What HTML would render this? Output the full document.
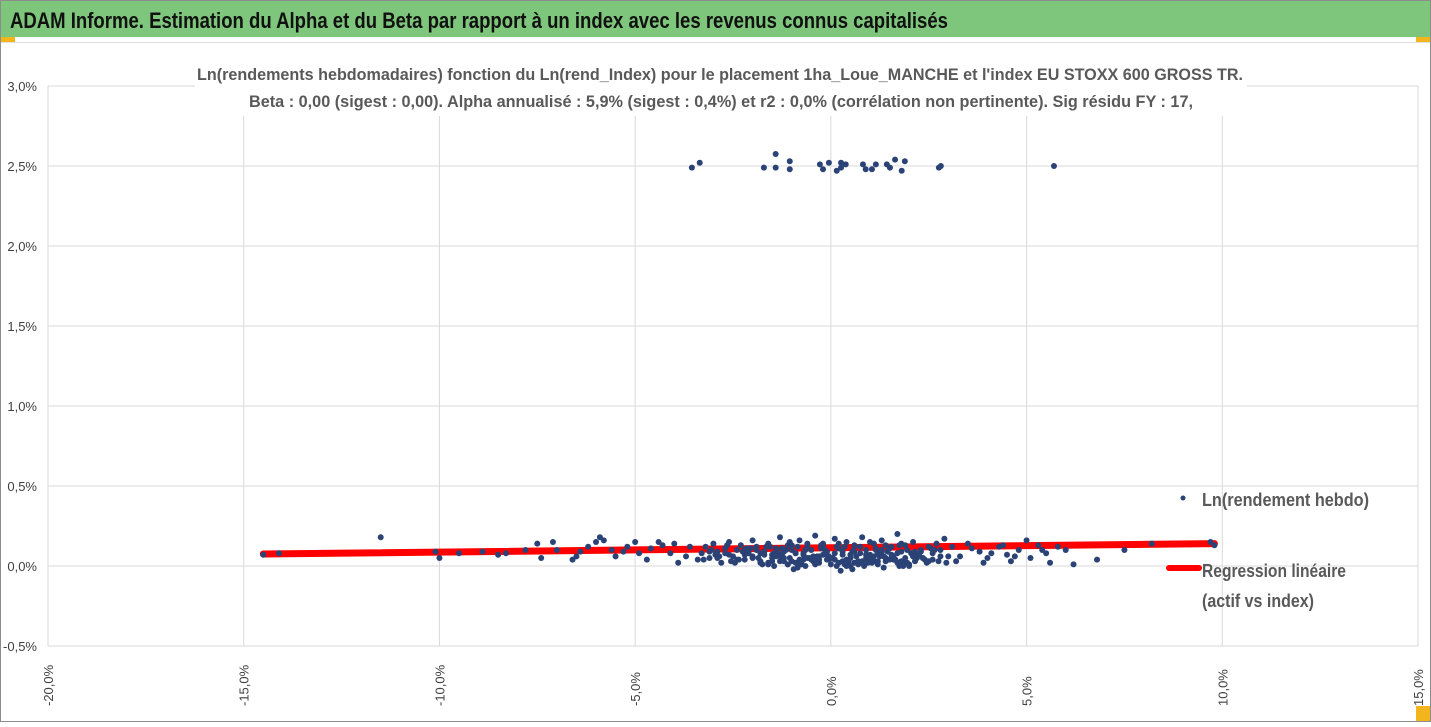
<!DOCTYPE html>
<html><head><meta charset="utf-8"><style>
html,body{margin:0;padding:0;background:#fff}
body{width:1431px;height:722px;overflow:hidden;font-family:"Liberation Sans",sans-serif}
</style></head><body>
<svg id="chart" width="1431" height="722" viewBox="0 0 1431 722" xmlns="http://www.w3.org/2000/svg">
<rect x="0.5" y="0.5" width="1430" height="721" fill="#fff" stroke="#8c8c8c"/>
<g id="grid"></g>
<rect x="195" y="58" width="1052" height="58" fill="#fff"/>
<text x="720" y="80" text-anchor="middle" font-size="17" font-weight="bold" fill="#595959" textLength="1046" lengthAdjust="spacingAndGlyphs">Ln(rendements hebdomadaires) fonction du Ln(rend_Index) pour le placement 1ha_Loue_MANCHE et l'index EU STOXX 600 GROSS TR.</text>
<text x="721" y="107" text-anchor="middle" font-size="17" font-weight="bold" fill="#595959" textLength="944" lengthAdjust="spacingAndGlyphs">Beta : 0,00 (sigest : 0,00). Alpha annualisé : 5,9% (sigest : 0,4%) et r2 : 0,0% (corrélation non pertinente). Sig résidu FY : 17,</text>
<g id="axes"></g>
<g id="reg"></g>
<g id="points"></g>
<rect x="1" y="1" width="1429" height="36" fill="#7dc67b"/>
<text x="10" y="28" font-size="22" font-weight="bold" fill="#111" textLength="938" lengthAdjust="spacingAndGlyphs">ADAM Informe. Estimation du Alpha et du Beta par rapport à un index avec les revenus connus capitalisés</text>
<rect x="1" y="37" width="14" height="5" fill="#f2b51c"/>
<rect x="1416" y="37" width="14" height="5" fill="#f2b51c"/>
<rect x="1416" y="706" width="14" height="15" fill="#f2b51c"/>
<line x1="1" y1="42.5" x2="1430" y2="42.5" stroke="#e0e0e0"/>
<g>
<circle cx="1183" cy="498" r="2.5" fill="#2a4275"/>
<text x="1202" y="506" font-size="18" font-weight="bold" fill="#595959" textLength="167" lengthAdjust="spacingAndGlyphs">Ln(rendement hebdo)</text>
<line x1="1169" y1="568" x2="1199" y2="568" stroke="#ff0000" stroke-width="6" stroke-linecap="round"/>
<text x="1202" y="577" font-size="18" font-weight="bold" fill="#595959" textLength="144" lengthAdjust="spacingAndGlyphs">Regression linéaire</text>
<text x="1202" y="607" font-size="18" font-weight="bold" fill="#595959" textLength="112" lengthAdjust="spacingAndGlyphs">(actif vs index)</text>
</g>
</svg>
<script>
const xTicks=[-20,-15,-10,-5,0,5,10,15];
const xTickLabels=["-20,0%","-15,0%","-10,0%","-5,0%","0,0%","5,0%","10,0%","15,0%"];
const yTicks=[3,2.5,2,1.5,1,0.5,0,-0.5];
const yTickLabels=["3,0%","2,5%","2,0%","1,5%","1,0%","0,5%","0,0%","-0,5%"];
const regX=[-14.5,9.8];
const regY=[0.075,0.14];
const topX=[-3.55,-3.35,-1.71,-1.41,-1.41,-1.05,-1.05,-0.28,-0.2,-0.05,0.15,0.26,0.26,0.38,0.82,0.89,1.05,1.15,1.43,1.51,1.64,1.81,1.89,2.76,2.81,5.7];
const topY=[2.49,2.52,2.49,2.575,2.49,2.53,2.48,2.51,2.48,2.52,2.47,2.52,2.49,2.51,2.51,2.48,2.48,2.51,2.51,2.49,2.54,2.47,2.53,2.49,2.5,2.5];
const outX=[-14.5,-14.1,-11.5,-10.0,-10.1,-9.5,-8.9,-8.5,-8.3,-7.8,-7.5,-7.4,-7.1,-7.0,-6.6,-6.5,-6.4,-6.2,-6.0,-5.9,-5.8,-5.6,-5.5,-5.3,-5.2,-5.0,-4.9,-4.7,-4.6,-4.4,-4.3,-4.1,-4.0,-3.9,-3.7,-3.6,-3.4,4.3,4.5,4.6,4.8,5.0,5.1,5.3,5.5,5.6,5.8,6.0,6.2,6.8,7.5,8.2,9.7,9.8,3.5,3.8,4.0,3.2,2.9,3.1,3.3,3.6,3.9,4.1,4.4,4.7,5.4];
const outY=[0.07,0.08,0.18,0.05,0.09,0.08,0.09,0.07,0.08,0.10,0.14,0.05,0.15,0.10,0.04,0.06,0.09,0.12,0.15,0.18,0.16,0.10,0.06,0.09,0.12,0.15,0.08,0.04,0.11,0.15,0.13,0.08,0.14,0.02,0.06,0.12,0.04,0.12,0.07,0.03,0.10,0.16,0.05,0.13,0.08,0.02,0.12,0.10,0.01,0.04,0.10,0.14,0.15,0.13,0.14,0.09,0.05,0.03,0.17,0.12,0.06,0.11,0.02,0.08,0.13,0.06,0.10];
const midX=[-3.3,-3.2,-3.1,-3.0,-2.9,-2.8,-2.7,-2.6,-2.5,-2.4,-2.3,-2.2,-2.1,-2.0,-1.9,-1.8,-1.7,-1.6,-1.5,-1.4,-1.3,-1.2,-1.1,-1.0,-0.9,-0.8,-0.7,-0.6,-0.5,-0.4,-0.3,-0.2,-0.1,0.0,0.1,0.2,0.3,0.4,0.5,0.6,0.7,0.8,0.9,1.0,1.1,1.2,1.3,1.4,1.5,1.6,1.7,1.8,1.9,2.0,2.1,2.2,2.3,2.4,2.5,2.6,2.7,2.8,
-3.25,-3.05,-2.85,-2.65,-2.45,-2.25,-2.05,-1.85,-1.65,-1.45,-1.25,-1.05,-0.85,-0.65,-0.45,-0.25,-0.05,0.15,0.35,0.55,0.75,0.95,1.15,1.35,1.55,1.75,1.95,2.15,2.35,2.55,2.75,
-2.95,-2.55,-2.15,-1.75,-1.35,-0.95,-0.55,-0.15,0.25,0.65,1.05,1.45,1.85,2.25,2.65,
-2.0,-1.6,-1.2,-0.8,-0.4,0.05,0.45,0.85,1.25,1.65,2.05,2.45,
-1.9,-1.5,-1.1,-0.7,-0.3,0.1,0.5,0.9,1.3,1.7,2.1,-2.35,-1.15,-0.35,0.6,1.0,1.6,-0.75,0.3,1.2,-1.55,0.7,1.9,-2.7,2.95,
-1.8,-1.4,-1.0,-0.6,-0.2,0.2,0.6,1.0,1.4,1.8,2.2,-0.9,0.4,-1.3,1.1,-0.45,0.8,-1.7,1.55,-0.1];
const midY=[0.08,0.12,0.05,0.14,0.09,0.02,0.11,0.15,0.06,0.10,0.13,0.04,0.08,0.16,0.12,0.03,0.09,0.14,0.07,0.11,0.18,0.05,0.13,0.10,0.02,0.16,0.08,0.12,0.04,0.19,0.06,0.14,0.09,0.01,0.17,0.11,0.03,0.15,0.07,0.12,0.02,0.18,0.10,0.05,0.14,0.08,0.16,0.03,0.11,0.06,0.20,0.09,0.13,0.01,0.15,0.07,0.10,0.04,0.12,0.08,0.14,0.06,
0.04,0.10,0.06,0.13,0.02,0.09,0.11,0.05,0.12,0.00,0.07,0.15,-0.01,0.10,0.03,0.13,0.06,0.00,0.12,-0.02,0.08,0.03,0.11,-0.01,0.07,0.13,0.02,0.09,0.05,0.11,0.03,
0.07,0.03,0.11,0.01,0.08,-0.02,0.05,0.10,-0.03,0.06,0.02,0.09,0.00,0.07,0.10,
0.06,0.02,0.09,0.04,0.01,0.05,0.03,0.00,0.06,0.04,0.08,0.02,
0.10,0.05,0.01,0.07,0.04,0.08,0.00,0.05,0.09,0.02,0.06,0.04,0.10,0.06,0.02,0.07,0.04,0.01,0.07,0.03,0.12,0.03,0.05,0.08,0.02,
0.02,0.06,0.03,0.05,0.07,0.02,0.09,0.04,0.05,0.03,0.05,0.08,0.04,0.03,0.06,0.05,0.02,0.07,0.05,0.04];
const coreX=[-1.5,-1.3,-1.1,-0.9,-0.7,-0.5,-0.3,-0.1,0.1,0.3,
0.5,0.7,0.9,1.1,1.3,1.5,1.7,1.9,2.1,2.3,
-1.45,-1.25,-1.05,-0.85,-0.65,-0.45,-0.25,-0.05,0.15,0.35,
0.55,0.75,0.95,1.15,1.35,1.55,1.75,1.95,2.15,2.35,
-1.6,-1.2,-0.8,-0.4,0.0,0.4,0.8,1.2,1.6,2.0,
-1.0,-0.6,-0.2,0.2,0.6,1.0,1.4,1.8,-2.2,2.6,
-2.6,-2.4,-2.2,-2.0,-1.8,3.0,2.8,2.5,-2.9,-3.1];
const coreY=[0.03,0.06,0.01,0.08,0.04,0.10,0.02,0.07,0.04,0.09,
0.05,0.01,0.07,0.03,0.10,0.04,0.08,0.02,0.06,0.09,
0.08,0.11,0.05,0.12,0.00,0.06,0.11,0.04,0.12,0.01,
0.09,0.12,0.02,0.10,0.06,0.12,0.00,0.10,0.03,0.05,
0.01,0.03,0.02,0.03,0.05,0.00,0.03,0.01,0.04,0.00,
0.13,0.14,0.12,0.14,0.13,0.15,0.13,0.14,0.07,0.04,
0.07,0.04,0.10,0.05,0.08,0.06,0.10,0.03,0.05,0.09];
const L=48,R=1418,T=86,B=646,X0=-20,X1=15,Y0=-0.5,Y1=3;
const sx=v=>L+(v-X0)/(X1-X0)*(R-L);
const sy=v=>B-(v-Y0)/(Y1-Y0)*(B-T);
const NS="http://www.w3.org/2000/svg";
function mk(tag,attrs,parent){const e=document.createElementNS(NS,tag);for(const k in attrs)e.setAttribute(k,attrs[k]);parent.appendChild(e);return e;}
const grid=document.getElementById('grid'),axes=document.getElementById('axes');
xTicks.forEach((t,i)=>{
 const gl=mk('line',{x1:sx(t),x2:sx(t),y1:T,y2:B,stroke:'#d9d9d9','stroke-width':1},grid);
 
 
 const x=sx(t)+5;
 const lb=mk('text',{x:x,y:706,'font-size':13,fill:'#404040','text-anchor':'start',transform:`rotate(-90 ${x} 706)`},axes);
 lb.textContent=xTickLabels[i];
 
 
});
yTicks.forEach((t,i)=>{
 const gl=mk('line',{x1:L,x2:R,y1:sy(t),y2:sy(t),stroke:'#d9d9d9','stroke-width':1},grid);
 
 
 const lb=mk('text',{x:37,y:sy(t)+5,'font-size':13,fill:'#404040','text-anchor':'end'},axes);
 lb.textContent=yTickLabels[i];
 
 
});
const reg=document.getElementById('reg');
const rl=mk('line',{x1:sx(regX[0]),y1:sy(regY[0]),x2:sx(regX[1]),y2:sy(regY[1]),stroke:'#ff0000','stroke-width':7,'stroke-linecap':'round'},reg);


const pts=document.getElementById('points');
function drawPts(xs,ys){const n=Math.min(xs.length,ys.length);for(let i=0;i<n;i++){
 const c=mk('circle',{cx:sx(xs[i]),cy:sy(ys[i]),r:3,fill:'#2a4275'},pts);
 
 
}}
drawPts(midX,midY);drawPts(coreX,coreY);drawPts(outX,outY);drawPts(topX,topY);
</script>
</body></html>
